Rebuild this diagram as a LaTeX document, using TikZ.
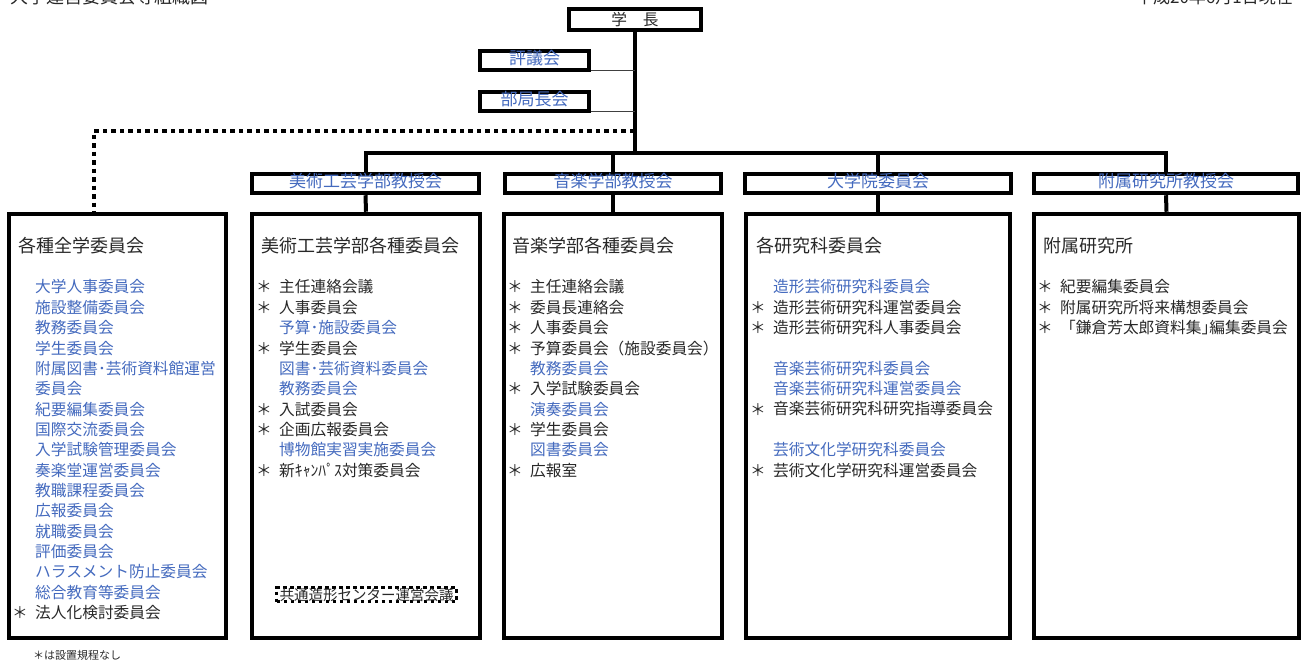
\documentclass[tikz,border=0pt]{standalone}
\usepackage{fontspec}
\setmainfont{Noto Sans CJK JP}
\usepackage{tikz}
\usetikzlibrary{calc}
\definecolor{orgblue}{RGB}{68,106,190}
\definecolor{orgtext}{RGB}{40,40,40}
\newcommand\itemfont{\fontsize{15.7pt}{15.7pt}\selectfont}
\newcommand\headfont{\fontsize{18pt}{18pt}\selectfont}
\newcommand\facfont{\fontsize{17pt}{17pt}\selectfont}

\begin{document}
\begin{tikzpicture}[x=1pt,y=-1pt,
        box/.style={draw,line width=4.5pt,inner sep=0pt},
        fac/.style={box,minimum height=19pt,text height=12pt,text depth=3pt,font=\facfont,text=orgblue},
        bigbox/.style={box,minimum height=424pt},
        head/.style={anchor=west,inner sep=0pt,font=\headfont,text=orgtext},
        kai/.style={anchor=west,inner sep=0pt,font=\itemfont,text=orgblue},
        kaistar/.style={anchor=west,inner sep=0pt,font=\itemfont,text=orgtext,
            label={[xshift=-7pt,inner sep=0pt,font=\itemfont,text=orgtext]left:＊}},
        trunk/.style={line width=4pt},
        link/.style={line width=1.2pt,black!75},
        dotline/.style={line width=4pt,dash pattern=on 4.5pt off 4pt}]
    \useasboundingbox (0,0) rectangle (1305,660);
    \node[anchor=base west,inner sep=0pt,font=\headfont,text=orgtext] (title) at (10,4) {大学運営委員会等組織図};
    \node[anchor=base east,inner sep=0pt,font=\facfont,text=orgtext] (date) at (1293,4) {平成20年6月1日現在};

    \node[box,minimum width=132pt,minimum height=21pt,font=\itemfont,text=orgtext] (gakucho) at (635,19.5) {学　長};
    \node[fac,minimum width=109pt] (hyogi) at (534.5,60.5) {評議会};
    \node[fac,minimum width=109pt] (bukyoku) at (534.5,101.5) {部局長会};

    \node[fac,minimum width=227pt] (bifac) at (365.5,183.5) {美術工芸学部教授会};
    \node[fac,minimum width=216pt] (onfac) at (613,183.5) {音楽学部教授会};
    \node[fac,minimum width=266pt] (infac) at (878,183.5) {大学院委員会};
    \node[fac,minimum width=264pt] (kenfac) at (1166,183.5) {附属研究所教授会};

    \node[bigbox,minimum width=217pt] (zenbox) at (117.5,426) {};
    \node[bigbox,minimum width=228pt] (bibox) at (366,426) {};
    \node[bigbox,minimum width=218pt] (onbox) at (613,426) {};
    \node[bigbox,minimum width=264pt] (inbox) at (878,426) {};
    \node[bigbox,minimum width=265pt] (kenbox) at (1166.5,426) {};

    \coordinate (bar) at (634,153);
    \coordinate (split) at (634,131);
    \draw[trunk] (gakucho.south) -- (gakucho.south |- bar);
    \draw[trunk] (bifac.north) |- (kenfac.north |- bar) -- (kenfac.north);
    \draw[trunk] (onfac.north |- bar) -- (onfac.north);
    \draw[trunk] (infac.north |- bar) -- (infac.north);
    \draw[trunk] (bifac.south) -- (bibox.north);
    \draw[trunk] (onfac.south) -- (onbox.north);
    \draw[trunk] (infac.south) -- (inbox.north);
    \draw[trunk] (kenfac.south) -- (kenbox.north);
    \path ($(hyogi.south east)+(0,-1.5)$) coordinate (h1)
          ($(bukyoku.south east)+(0,-1.5)$) coordinate (h2);
    \draw[link] (h1) -- (h1 -| gakucho.south);
    \draw[link] (h2) -- (h2 -| gakucho.south);
    \draw[dotline] (split) -| ($(zenbox.north west)+(87,0)$);

    \node[head] (zenhead) at (18,246) {各種全学委員会};
    \node[head] (bihead) at (261,246) {美術工芸学部各種委員会};
    \node[head] (onhead) at (512,246) {音楽学部各種委員会};
    \node[head] (inhead) at (756,246) {各研究科委員会};
    \node[head] (kenhead) at (1043,246) {附属研究所};

    \foreach \r/\k/\t in {0/kai/大学人事委員会,1/kai/施設整備委員会,2/kai/教務委員会,
        3/kai/学生委員会,4/kai/附属図書･芸術資料館運営,5/kai/委員会,6/kai/紀要編集委員会,
        7/kai/国際交流委員会,8/kai/入学試験管理委員会,9/kai/奏楽堂運営委員会,
        10/kai/教職課程委員会,11/kai/広報委員会,12/kai/就職委員会,13/kai/評価委員会,
        14/kai/ハラスメント防止委員会,15/kai/総合教育等委員会,16/kaistar/法人化検討委員会}
        {\node[\k] (zen\r) at (35,{287+20.35*\r}) {\t};}

    \foreach \r/\k/\t in {0/kaistar/主任連絡会議,1/kaistar/人事委員会,2/kai/予算･施設委員会,
        3/kaistar/学生委員会,4/kai/図書･芸術資料委員会,5/kai/教務委員会,
        6/kaistar/入試委員会,7/kaistar/企画広報委員会,8/kai/博物館実習実施委員会,
        9/kaistar/新ｷｬﾝﾊﾟｽ対策委員会}
        {\node[\k] (bi\r) at (279,{287+20.35*\r}) {\t};}

    \foreach \r/\k/\t in {0/kaistar/主任連絡会議,1/kaistar/委員長連絡会,2/kaistar/人事委員会,
        3/kaistar/予算委員会（施設委員会）,4/kai/教務委員会,5/kaistar/入学試験委員会,
        6/kai/演奏委員会,7/kaistar/学生委員会,8/kai/図書委員会,9/kaistar/広報室}
        {\node[\k] (on\r) at (530,{287+20.35*\r}) {\t};}

    \foreach \r/\k/\t in {0/kai/造形芸術研究科委員会,1/kaistar/造形芸術研究科運営委員会,
        2/kaistar/造形芸術研究科人事委員会,4/kai/音楽芸術研究科委員会,
        5/kai/音楽芸術研究科運営委員会,6/kaistar/音楽芸術研究科研究指導委員会,
        8/kai/芸術文化学研究科委員会,9/kaistar/芸術文化学研究科運営委員会}
        {\node[\k] (in\r) at (773,{287+20.35*\r}) {\t};}

    \foreach \r/\k/\t in {0/kaistar/紀要編集委員会,1/kaistar/附属研究所将来構想委員会,
        2/kaistar/「鎌倉芳太郎資料集｣編集委員会}
        {\node[\k] (ken\r) at (1060,{287+20.35*\r}) {\t};}

    \node[draw,line width=3.5pt,dash pattern=on 3.5pt off 3.5pt,inner xsep=3pt,inner ysep=0pt,
        text height=12.5pt,text depth=1.5pt,font=\fontsize{14.5pt}{14.5pt}\selectfont,text=orgtext]
        (center) at (366.5,594.5) {共通造形センター運営会議};
    \node[anchor=west,inner sep=0pt,font=\fontsize{11pt}{11pt}\selectfont,text=orgtext]
        (note) at (33,655) {＊は設置規程なし};
\end{tikzpicture}
\end{document}
